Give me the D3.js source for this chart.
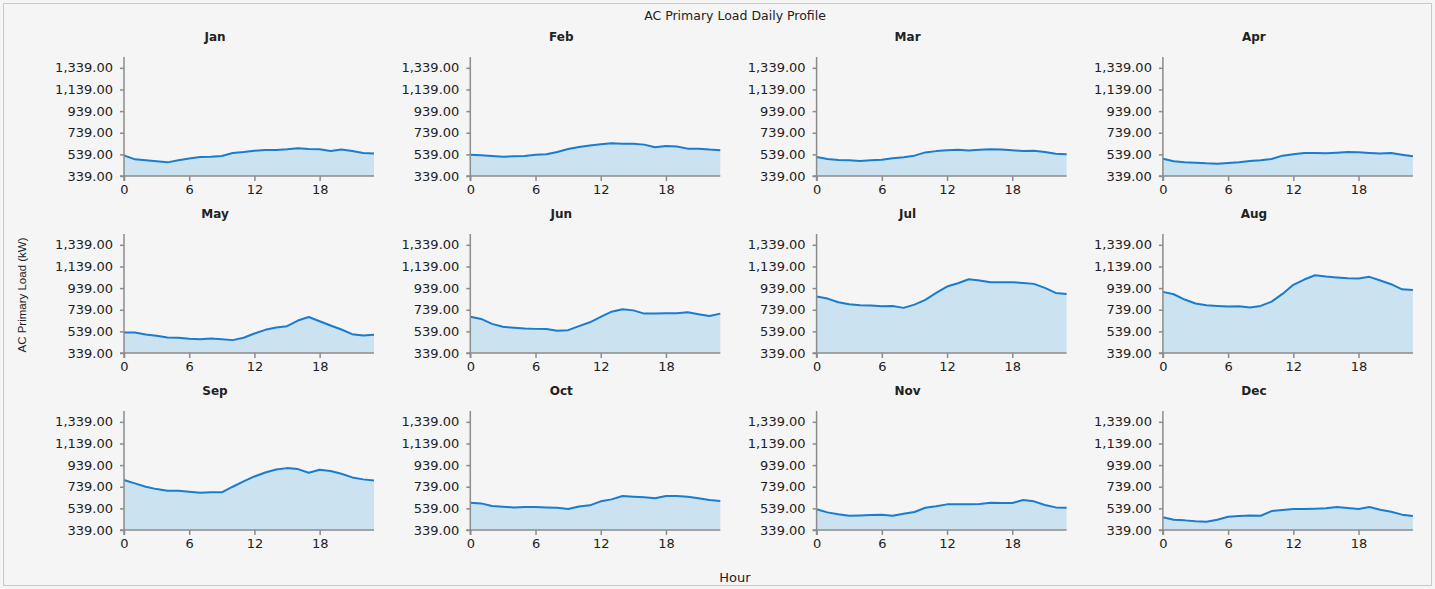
<!DOCTYPE html>
<html>
<head>
<meta charset="utf-8">
<script src="https://cdn.jsdelivr.net/npm/d3@7"></script>
<style>
  html, body { margin: 0; padding: 0; background: #f5f5f5; }
  svg { display: block; }
  text { font-family: "DejaVu Sans", sans-serif; fill: #222; }
</style>
</head>
<body>
<svg id="chart" width="1435" height="589"></svg>
<script>
const months = ["Jan","Feb","Mar","Apr","May","Jun","Jul","Aug","Sep","Oct","Nov","Dec"];
const hours = d3.range(0, 24);
const yTicks = [339, 539, 739, 939, 1139, 1339];
const xTicks = [0, 6, 12, 18];

const jan = [530,493,484,475,465,484,500,515,518,524,552,561,573,580,580,586,595,589,586,570,583,570,552,546];
const feb = [536,530,524,518,521,524,536,540,561,589,607,620,632,641,638,638,629,604,617,611,592,592,583,577];
const mar = [515,497,487,484,478,484,490,503,512,527,557,569,578,581,575,581,587,584,578,569,572,560,545,539];
const apr = [499,475,466,462,456,453,459,466,478,484,496,527,540,552,552,549,555,561,558,552,546,552,536,521];
const may = [529,529,510,498,483,480,471,467,474,467,458,480,519,553,574,587,639,672,632,593,556,513,501,507];
const jun = [675,654,608,581,573,566,562,561,544,550,587,623,672,721,743,733,703,703,706,706,715,697,681,703];
const jul = [861,842,808,790,780,777,771,774,756,786,830,894,953,984,1021,1009,993,993,993,987,978,941,894,885];
const aug = [904,882,833,796,780,774,768,771,759,774,814,885,969,1018,1058,1046,1037,1030,1027,1043,1009,975,928,922];
const sep = [801,770,739,717,702,702,693,684,687,687,739,788,834,871,899,911,902,868,896,884,859,825,807,797];
const oct = [591,585,561,554,548,551,551,548,545,533,557,567,604,622,653,647,641,632,653,653,647,632,616,607];
const nov = [530,502,484,471,474,477,480,471,490,505,545,558,576,576,576,579,591,588,588,616,604,570,548,545];
const dec = [456,434,428,419,416,434,462,468,474,471,514,524,533,533,536,539,551,542,533,551,527,508,481,468];
const series = [jan, feb, mar, apr, may, jun, jul, aug, sep, oct, nov, dec];

const svg = d3.select("#chart");
svg.append("rect").attr("x", 3.5).attr("y", 3.5).attr("width", 1428).attr("height", 582)
  .attr("fill", "#f5f5f5").attr("stroke", "#c8c8c8");

svg.append("text").attr("x", 735).attr("y", 20).attr("text-anchor", "middle")
  .style("font-size", "12.5px").text("AC Primary Load Daily Profile");
svg.append("text").attr("x", 735).attr("y", 582).attr("text-anchor", "middle")
  .style("font-size", "13px").text("Hour");
svg.append("text").attr("transform", "translate(26,295) rotate(-90)").attr("text-anchor", "middle")
  .style("font-family", "'Liberation Sans', sans-serif").style("font-size", "11.5px").text("AC Primary Load (kW)");

const plotW = 250, plotH = 119;
const x = d3.scaleLinear().domain([0, 23]).range([0, plotW]);
const y = d3.scaleLinear().domain([339, 1439]).range([plotH, 0]);
const area = d3.area().x((d, i) => x(hours[i])).y0(y(339)).y1(d => y(d));
const line = d3.line().x((d, i) => x(hours[i])).y(d => y(d));

months.forEach((m, k) => {
  const col = k % 4, row = Math.floor(k / 4);
  const ox = 124 + col * 346.3, oy = 57 + row * 177;
  const g = svg.append("g").attr("transform", `translate(${ox},${oy})`);
  g.append("text").attr("x", 91).attr("y", -16).attr("text-anchor", "middle")
    .style("font-size", "12px").style("font-weight", "bold").text(m);
  g.append("path").datum(series[k]).attr("d", area).attr("fill", "#cbe2f0");
  g.append("path").datum(series[k]).attr("d", line).attr("fill", "none")
    .attr("stroke", "#1a7ccc").attr("stroke-width", 2).attr("stroke-linejoin", "round");
  const ya = g.append("g").call(d3.axisLeft(y).tickValues(yTicks).tickSize(4).tickPadding(7)
    .tickFormat(d3.format(",.2f")));
  const xa = g.append("g").attr("transform", `translate(0,${plotH})`)
    .call(d3.axisBottom(x).tickValues(xTicks).tickSize(5).tickPadding(4).tickFormat(d3.format("d")));
  [ya, xa].forEach(a => {
    a.select(".domain").attr("stroke", "#8c8c8c").attr("stroke-width", 1.5);
    a.selectAll(".tick line").attr("stroke", "#8c8c8c").attr("stroke-width", 1.5);
    a.selectAll("text").style("font-family", "'DejaVu Sans', sans-serif").style("font-size", "13px").attr("fill", "#222");
  });
  ya.select(".domain").attr("d", `M-4,${plotH}H0V0`);
  xa.select(".domain").attr("d", `M0,5V0H${plotW}`);
});
</script>
</body>
</html>
